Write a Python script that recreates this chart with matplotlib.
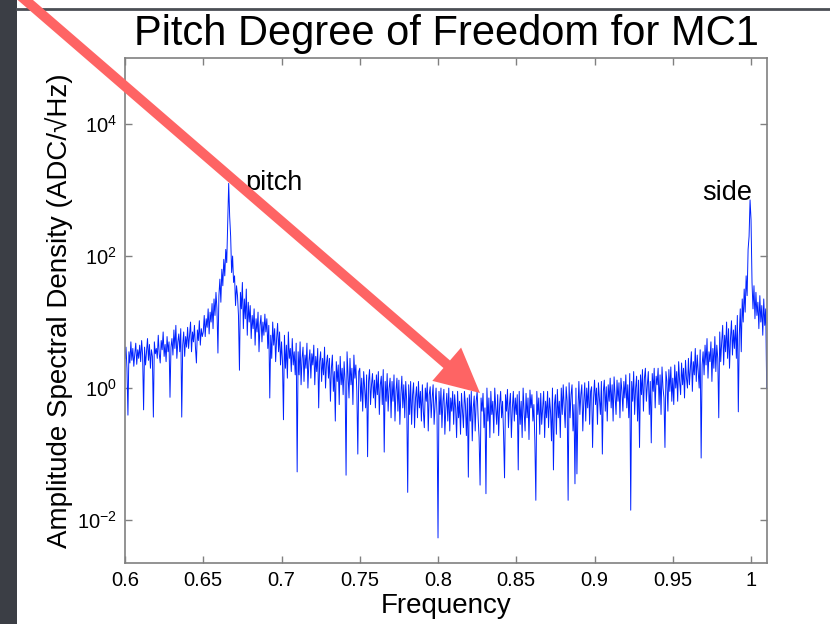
import numpy as np
import matplotlib.pyplot as plt
from matplotlib.patches import Rectangle, FancyArrow
from matplotlib.lines import Line2D
from matplotlib.transforms import IdentityTransform
from matplotlib.ticker import NullLocator

plt.rcParams['font.family'] = ['Liberation Sans', 'DejaVu Sans']

# spectrum: log10 of the amplitude spectral density,
# sampled every 0.000625 Hz starting at 0.6 Hz (16 samples per 0.01 Hz)
f_start = 0.6
f_step = 0.000625
log_asd = [
    # 0.60
    0.45, 0.62, 0.30, -0.41, 0.55, 0.38, 0.70, 0.42, 0.60, 0.33, 0.52, 0.68, 0.36, 0.58, 0.45, 0.65,
    # 0.61
    0.40, 0.72, 0.50, -0.33, 0.62, 0.35, 0.55, 0.75, 0.42, 0.66, 0.30, 0.58, 0.48, -0.44, 0.70, 0.52,
    # 0.62
    0.60, 0.45, 0.80, 0.52, 0.38, 0.72, 0.58, 0.85, 0.48, 0.66, 0.40, 0.78, 0.55, 0.70, -0.14, 0.62,
    # 0.63
    0.75, 0.50, 0.88, 0.60, 0.95, 0.45, 0.70, 0.82, 0.55, 0.90, -0.44, 0.65, 0.85, 0.48, 0.78, 0.62,
    # 0.64
    0.92, 0.60, 0.80, 1.00, 0.55, 0.85, 0.70, 0.95, 0.62, 0.38, 0.88, 0.72, 1.02, 0.65, 0.90, 0.78,
    # 0.65
    0.85, 1.10, 0.78, 1.05, 0.92, 1.20, 0.82, 1.15, 1.00, 1.28, 0.90, 1.35, 1.10, 1.45, 1.20, 0.53,
    # 0.66 (pitch resonance)
    1.40, 1.65, 1.30, 1.80, 1.55, 1.95, 1.70, 2.10, 1.90, 2.50, 3.10, 2.60, 2.30, 1.75, 2.00, 1.60,
    # 0.67
    1.70, 1.25, 1.55, 1.40, 1.10, 0.27, 1.45, 1.20, 1.60, 0.90, 1.35, 1.05, 1.50, 0.80, 1.30, 1.00,
    # 0.68
    1.25, 0.75, 1.10, 0.90, 1.20, 0.65, 1.05, 0.85, 1.15, 0.55, 0.95, 1.10, 0.70, 1.00, 0.80, 1.12,
    # 0.69
    0.85, 1.05, 0.60, 0.95, -0.15, 0.80, 0.45, 1.00, 0.65, 0.90, 0.40, 0.75, 0.98, 0.55, 0.85, 0.35,
    # 0.70
    0.70, 0.40, -0.48, 0.80, 0.30, 0.65, 0.15, 0.85, 0.45, 0.60, 0.25, 0.75, 0.35, 0.55, 0.20, 0.68,
    # 0.71
    -1.27, 0.55, 0.20, 0.70, 0.05, 0.45, 0.62, 0.10, 0.50, 0.30, 0.68, 0.00, 0.40, 0.58, 0.15, 0.52,
    # 0.72
    0.35, 0.65, 0.05, 0.48, 0.25, 0.60, -0.30, 0.40, 0.55, 0.10, 0.45, 0.20, 0.62, 0.00, 0.38, 0.50,
    # 0.73
    0.15, 0.45, -0.20, 0.30, 0.50, -0.05, 0.25, -0.50, 0.40, 0.10, 0.35, -0.25, 0.48, 0.05, 0.30, -0.10,
    # 0.74
    0.40, 0.10, -1.32, 0.55, 0.20, -0.15, 0.45, 0.05, 0.30, -0.25, 0.50, 0.15, 0.35, -0.05, -1.00, 0.25,
    # 0.75
    0.30, -0.20, 0.15, -0.35, 0.25, 0.00, -0.30, 0.20, -1.04, 0.10, 0.28, -0.25, 0.05, 0.22, -0.15, 0.12,
    # 0.76
    -0.30, 0.20, -0.10, 0.25, -0.40, 0.05, 0.18, -0.25, 0.28, -0.97, 0.10, -0.20, 0.22, -0.35, 0.00, 0.15,
    # 0.77
    -0.45, 0.10, -0.20, 0.20, -0.50, -0.05, 0.15, -0.35, 0.12, -0.55, -0.10, 0.18, -0.30, 0.05, -0.45, 0.10,
    # 0.78
    -0.20, -1.58, 0.05, -0.40, 0.10, -0.55, -0.10, 0.08, -0.60, -0.15, 0.02, -0.45, 0.10, -0.30, -0.05, -0.50,
    # 0.79
    0.05, -0.35, -0.60, 0.00, -0.20, 0.08, -0.65, -0.10, 0.02, -0.45, -0.15, 0.05, -0.55, -0.25, 0.00, -0.40,
    # 0.80
    -2.27, -0.05, -0.40, 0.00, -0.60, -0.20, -0.02, -0.70, -0.30, -0.08, -0.50, 0.00, -0.65, -0.15, -0.35, -0.05,
    # 0.81
    -0.55, -0.10, -0.30, -0.75, -0.05, -0.45, -0.20, -0.70, -0.08, -0.35, -0.60, -0.05, -0.25, -0.72, -0.15, -1.35,
    # 0.82
    -0.10, -0.50, -0.05, -0.80, -0.30, -0.12, -0.65, -0.20, -0.05, -0.45, -0.75, -1.47, -0.15, -0.35, -0.08, -0.60,
    # 0.83
    -0.30, -1.60, 0.00, -0.50, -0.15, -0.75, -0.05, -0.40, -0.20, -0.68, 0.00, -0.30, -0.55, -0.10, -0.72, -0.25,
    # 0.84
    -0.05, -0.45, -0.20, -0.70, -1.36, -0.10, -0.35, -0.02, -0.60, -0.25, -0.08, -0.75, -0.30, -0.05, -0.50, -0.15,
    # 0.85
    -0.40, -0.10, -1.24, -0.05, -0.55, -0.20, -0.75, 0.00, -0.35, -0.65, -0.08, -0.45, -0.15, -0.78, -0.03, -0.30,
    # 0.86
    -0.10, -0.50, -0.25, -0.80, -1.70, -0.05, -0.40, -0.15, -0.70, -0.08, -0.55, -0.30, -0.05, -0.75, -0.20, -0.45,
    # 0.87
    -0.05, -0.60, -0.15, -0.35, -0.80, 0.00, -1.24, -0.25, -0.10, -0.70, -0.02, -0.45, -0.20, -0.75, 0.00, -0.40,
    # 0.88
    0.05, -0.30, -0.60, 0.02, -0.20, -1.70, 0.08, -0.45, -0.10, 0.05, -0.65, -0.25, -1.45, 0.00, -1.30, -0.35,
    # 0.89
    0.10, -0.40, -0.10, 0.05, -0.65, -0.20, 0.08, -0.50, 0.00, -0.30, 0.10, -0.55, -0.05, 0.02, -0.90, -0.15,
    # 0.90
    0.12, -0.25, 0.00, -0.55, 0.08, -0.15, -0.40, 0.10, -1.00, -0.05, 0.12, -0.35, 0.02, -0.50, 0.05, -0.20,
    # 0.91
    0.15, -0.30, 0.05, -0.50, 0.17, -0.10, -0.40, 0.12, -0.20, 0.08, -0.45, 0.15, -0.05, -0.35, 0.10, -0.15,
    # 0.92
    0.20, -0.30, 0.05, -0.45, 0.22, -1.85, 0.10, -0.20, 0.25, -0.40, 0.00, 0.18, -0.50, 0.12, -0.90, 0.20,
    # 0.93
    -0.10, 0.28, -0.35, 0.15, 0.30, -0.20, 0.05, 0.25, -0.40, 0.10, -0.83, 0.22, -0.05, 0.30, -0.30, 0.18,
    # 0.94
    0.05, 0.30, -0.25, 0.20, -0.40, 0.32, 0.00, -0.15, -0.90, 0.25, 0.10, -0.35, 0.28, -0.05, 0.32, -0.20,
    # 0.95
    0.15, -0.25, 0.35, 0.00, 0.25, -0.20, 0.40, 0.10, -0.10, 0.38, 0.05, 0.30, -0.15, 0.42, 0.15, 0.00,
    # 0.96
    0.45, 0.05, 0.30, 0.55, -0.05, 0.40, 0.20, 0.60, 0.10, 0.50, 0.25, 0.00, 0.58, -1.06, 0.35, 0.55,
    # 0.97
    0.20, 0.65, 0.35, 0.75, 0.15, 0.55, 0.40, 0.70, 0.10, 0.60, 0.30, 0.78, 0.25, 0.65, 0.45, -0.45,
    # 0.98
    0.85, 0.40, 0.70, 0.95, 0.35, 0.80, 0.55, 1.00, 0.45, 0.90, 0.30, 0.75, 1.02, 0.50, 0.88, 0.60,
    # 0.99 (side resonance)
    0.95, 0.45, 1.10, -0.36, 0.80, 1.20, 0.55, 1.35, 1.00, 1.50, 1.15, 1.70, 1.40, 2.10, 2.30, 2.85,
    # 1.00
    2.55, 1.60, 1.20, 1.55, 1.05, 1.45, 1.10, 1.30, 0.90, 1.40, 1.00, 1.25, 0.80, 1.35, 0.95, 1.20,
    # 1.01
    0.00,
]

freq = f_start + f_step * np.arange(len(log_asd))
asd = 10.0 ** np.array(log_asd)

xtick_vals = [0.6, 0.65, 0.7, 0.75, 0.8, 0.85, 0.9, 0.95, 1.0]
xtick_labels = ['0.6', '0.65', '0.7', '0.75', '0.8', '0.85', '0.9', '0.95', '1']
ytick_vals = [1e-2, 1e0, 1e2, 1e4]
ytick_labels = [r'$\mathdefault{10^{-2}}$', r'$\mathdefault{10^{0}}$',
                r'$\mathdefault{10^{2}}$', r'$\mathdefault{10^{4}}$']

fig = plt.figure(figsize=(8.3, 6.24), dpi=100)
fig.patch.set_facecolor('white')

# slide decorations: dark strip at the left, thin rule at the top
fig.add_artist(Rectangle((0, 0), 17 / 830, 1, transform=fig.transFigure,
                         facecolor='#3b3e45', edgecolor='none', zorder=1))
fig.add_artist(Line2D([17 / 830, 1], [1 - 8.5 / 624, 1 - 8.5 / 624],
                      transform=fig.transFigure, color='#4b4e55', lw=2))

ax = fig.add_axes([125 / 830, 1 - 563 / 624, (767 - 125) / 830, (563 - 58) / 624])
ax.semilogy(freq, asd, color='#0022ff', lw=0.7)

ax.set_xlim(0.6, 1.0102)
ax.set_ylim(10 ** -2.65, 1e5)
ax.set_xticks(xtick_vals)
ax.set_xticklabels(xtick_labels)
ax.set_yticks(ytick_vals)
ax.set_yticklabels(ytick_labels)
ax.yaxis.set_minor_locator(NullLocator())
ax.tick_params(direction='in', top=True, right=True, length=5, width=1,
               color='#808080', labelsize=14.5, pad=6)
for sp in ax.spines.values():
    sp.set_color('#808080')
    sp.set_linewidth(1.2)

ax.set_title('Pitch Degree of Freedom for MC1', fontsize=30, pad=9)
ax.set_xlabel('Frequency', fontsize=20, labelpad=2)
ax.set_ylabel('Amplitude Spectral Density (ADC/\u221aHz)', fontsize=20, labelpad=3)

ax.text(0.6767, 10 ** 3.0, 'pitch', fontsize=19.5, va='baseline')
ax.text(0.9687, 10 ** 2.85, 'side', fontsize=19.5, va='baseline')

# red pointer arrow, in pixel coordinates (y measured from the bottom)
x0, y0 = 8, 624 + 15
x1, y1 = 480, 624 - 393
fig.add_artist(FancyArrow(x0, y0, x1 - x0, y1 - y0, width=10, head_width=44,
                          head_length=44, length_includes_head=True,
                          color='#fe6464', lw=0, transform=IdentityTransform(),
                          zorder=10))

fig.savefig('out.png', dpi=100)
